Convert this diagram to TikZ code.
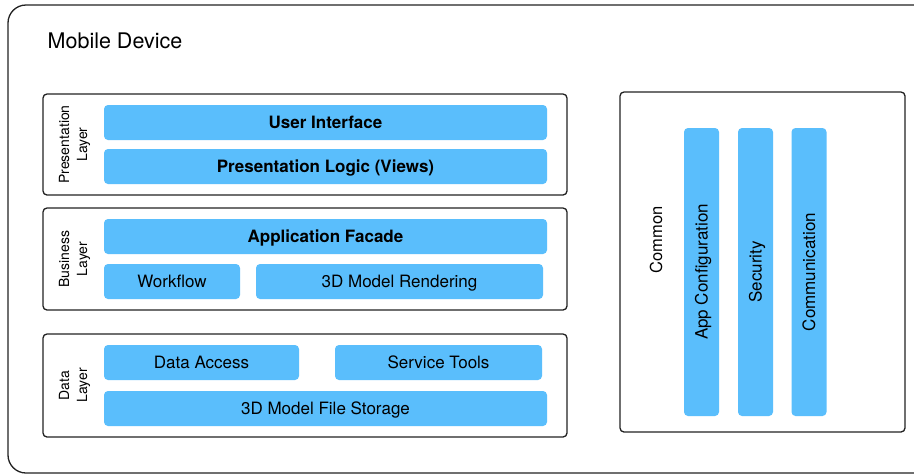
\documentclass[tikz,border=0pt]{standalone}
\usepackage{fontspec}
\setmainfont{TeX Gyre Heros}
\definecolor{boxblue}{HTML}{5ABEFC}
\definecolor{edge}{HTML}{222222}
\tikzset{
  container/.style={draw=edge, line width=1.3pt, rounded corners=4pt, fill=white, inner sep=0pt},
  bluebox/.style={fill=boxblue, draw=none, rounded corners=4pt, inner sep=0pt, text height=12.2pt, text depth=0pt, font=\fontsize{17}{20}\selectfont, text=black},
  boldbox/.style={bluebox, font=\fontsize{17}{20}\selectfont\bfseries},
  layerlabel/.style={rotate=90, align=center, font=\fontsize{14}{18}\selectfont, inner sep=0pt},
}
\begin{document}
\begin{tikzpicture}[x=1pt, y=-1pt]
\useasboundingbox (0,0) rectangle (914,475);
\clip (0,0) rectangle (914,475);
\fill[white] (0,0) rectangle (914,475);
% outer device
\node[container, rounded corners=18pt, minimum width=934pt, minimum height=468pt] (device) at (475,239) {};
\node[anchor=base west, font=\fontsize{21.5}{25}\selectfont, inner sep=0pt] (title) at (47.5,48.5) {Mobile Device};
% layer containers
\node[container, minimum width=524pt, minimum height=101pt] (pres) at (305,144.5) {};
\node[container, minimum width=524pt, minimum height=102pt] (bus) at (305,259) {};
\node[container, minimum width=524pt, minimum height=103pt] (data) at (305,385.5) {};
\node[container, minimum width=285pt, minimum height=340pt] (common) at (762.5,262) {};
% layer labels
\node[layerlabel] (preslbl) at (74.5,144.5) {Presentation\\Layer};
\node[layerlabel] (buslbl) at (74.5,259) {Business\\Layer};
\node[layerlabel] (datalbl) at (74.5,385.5) {Data\\Layer};
\node[rotate=90, font=\fontsize{16.5}{19}\selectfont, inner sep=0pt] (commonlbl) at (656,240) {Common};
% presentation
\node[boldbox, minimum width=443pt, minimum height=35pt] (ui) at (325.5,122.5) {User Interface};
\node[boldbox, minimum width=443pt, minimum height=35pt] (pl) at (325.5,166.5) {Presentation Logic (Views)};
% business
\node[boldbox, minimum width=443pt, minimum height=35pt] (af) at (325.5,236.5) {Application Facade};
\node[bluebox, minimum width=136pt, minimum height=35pt] (wf) at (172,281.5) {Workflow};
\node[bluebox, minimum width=287pt, minimum height=35pt] (render) at (399.5,281.5) {3D Model Rendering};
% data
\node[bluebox, minimum width=195pt, minimum height=35pt] (da) at (201.5,362.5) {Data Access};
\node[bluebox, minimum width=207pt, minimum height=35pt] (st) at (438.5,362.5) {Service Tools};
\node[bluebox, minimum width=443pt, minimum height=35pt] (fs) at (325.5,408.5) {3D Model File Storage};
% common bars
\node[bluebox, rotate=90, minimum width=288pt, minimum height=35pt] (cfg) at (701.5,272) {App Configuration};
\node[bluebox, rotate=90, minimum width=288pt, minimum height=35pt] (sec) at (755.5,272) {Security};
\node[bluebox, rotate=90, minimum width=288pt, minimum height=35pt] (comm) at (809,272) {Communication};
\end{tikzpicture}
\end{document}
